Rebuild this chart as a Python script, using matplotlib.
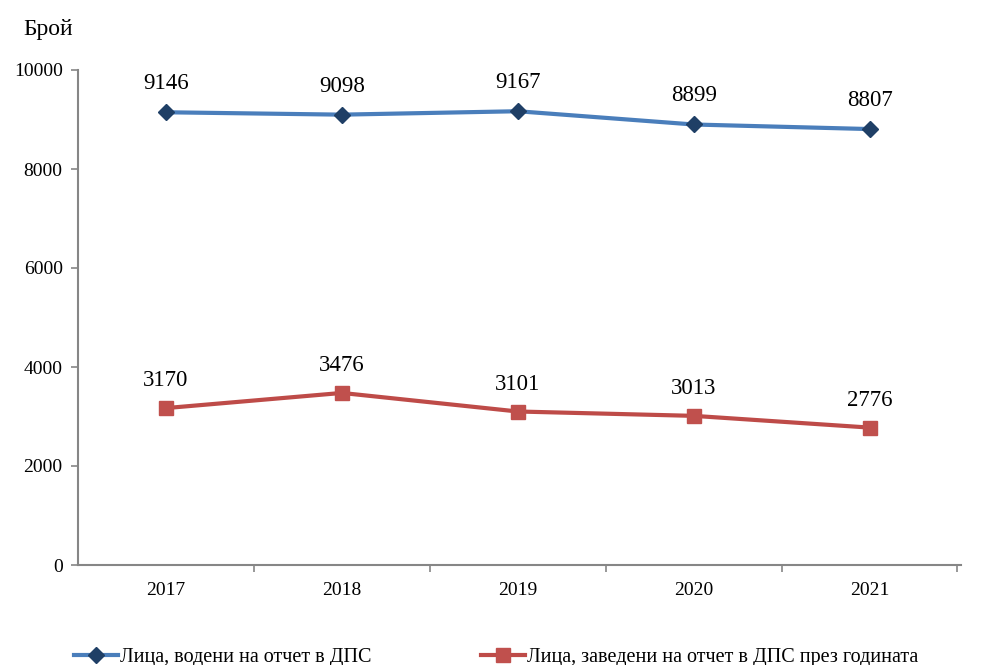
import matplotlib
matplotlib.use("Agg")
import matplotlib.pyplot as plt
from matplotlib.ticker import FixedLocator

years = ["2017", "2018", "2019", "2020", "2021"]
series1 = [9146, 9098, 9167, 8899, 8807]
series2 = [3170, 3476, 3101, 3013, 2776]
label1 = "Лица, водени на отчет в ДПС"
label2 = "Лица, заведени на отчет в ДПС през годината"
yticks = [0, 2000, 4000, 6000, 8000, 10000]

plt.rcParams['font.family'] = ['Liberation Serif', 'DejaVu Serif']

fig = plt.figure(figsize=(9.86, 6.65), dpi=100)
ax = fig.add_axes([78/986, 1-565/665, (961-78)/986, (565-70)/665])

x = list(range(len(years)))
blue = "#4A7EBB"
red = "#BE4B48"
ax.plot(x, series1, color=blue, lw=3, marker="D", ms=8, mfc="#1F3F66", mec="#1F3F66",
        label=label1, solid_joinstyle="round")
ax.plot(x, series2, color=red, lw=3, marker="s", ms=10, mfc="#C0504D", mec="#C0504D",
        label=label2)

for xi, v in zip(x, series1):
    ax.annotate(str(v), (xi, v), xytext=(0, 13), textcoords="offset points",
                ha="center", va="bottom", fontsize=16.5)
for xi, v in zip(x, series2):
    ax.annotate(str(v), (xi, v), xytext=(0, 12), textcoords="offset points",
                ha="center", va="bottom", fontsize=16.5)

ax.set_xlim(-0.5, len(years) - 0.5 + 0.02)
ax.set_ylim(0, 10000)
ax.set_yticks(yticks)
ax.set_yticklabels([str(t) for t in yticks], fontsize=14)
ax.set_xticks(x)
ax.set_xticklabels(years, fontsize=14)
ax.tick_params(axis="x", which="major", length=0, pad=12)
ax.xaxis.set_minor_locator(FixedLocator([i + 0.5 for i in range(len(years))]))
ax.tick_params(axis="x", which="minor", length=5, color="#868686", width=1.2)
ax.tick_params(axis="y", length=5, color="#868686", width=1.2, pad=6)

for s in ["top", "right"]:
    ax.spines[s].set_visible(False)
for s in ["left", "bottom"]:
    ax.spines[s].set_color("#868686")
    ax.spines[s].set_linewidth(1.5)

fig.text(23/986, 1-30/665, "Брой", fontsize=17, va="center", ha="left")

leg = fig.legend(loc="center left", bbox_to_anchor=(74/986, 1-657/665), ncol=2,
                 frameon=False, fontsize=14.5, handlelength=2.2, handletextpad=0.1,
                 columnspacing=5.4, borderaxespad=0, borderpad=0)

fig.savefig("out.png", dpi=100)
